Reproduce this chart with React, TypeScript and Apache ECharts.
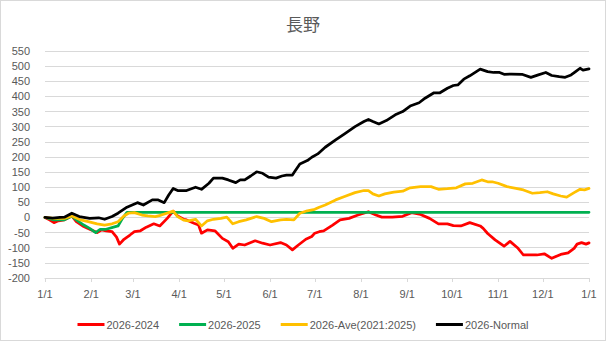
import React, { useEffect, useRef } from "react";
import * as echarts from "echarts";

const TITLE = "長野";
const monthDays = [0, 31, 59, 90, 120, 151, 181, 212, 243, 273, 304, 334, 365];
const monthLabels = ["1/1", "2/1", "3/1", "4/1", "5/1", "6/1", "7/1", "8/1", "9/1", "10/1", "11/1", "12/1", "1/1"];
const yTicks = { min: -200, max: 550, interval: 50 };

const seriesNames = ["2026-2024", "2026-2025", "2026-Ave(2021:2025)", "2026-Normal"];
const seriesColors = ["#FF0000", "#00B050", "#FFC000", "#000000"];

// [day of year, value]
const diff2024: [number, number][] = [
  [0, 0], [3, -8], [6, -17], [9, -11], [13, -8], [18, 5], [21, -14], [26, -30], [30, -39], [35, -50],
  [38, -41], [41, -44], [45, -47], [48, -65], [50, -88], [53, -72], [57, -58], [60, -47], [64, -44],
  [68, -32], [73, -21], [77, -28], [82, -3], [86, 21], [89, 5], [93, -6], [95, -8], [100, -19],
  [103, -25], [105, -52], [109, -41], [114, -44], [119, -69], [123, -80], [126, -102], [130, -88],
  [134, -91], [141, -77], [146, -85], [151, -91], [158, -83], [162, -91], [166, -107], [170, -91],
  [175, -72], [179, -63], [181, -52], [184, -47], [187, -44], [193, -25], [198, -8], [204, -3],
  [210, 8], [217, 19], [222, 8], [226, 1], [233, 1], [240, 4], [246, 16], [252, 10], [258, -3],
  [264, -21], [270, -21], [274, -27], [279, -28], [285, -17], [292, -28], [294, -36], [297, -53],
  [302, -74], [308, -95], [312, -79], [317, -100], [321, -124], [330, -124], [335, -120], [340, -135],
  [346, -122], [351, -117], [355, -102], [357, -88], [360, -83], [363, -88], [365, -84],
];

const diff2025: [number, number][] = [
  [0, 0], [6, -8], [13, -8], [18, 5], [21, -8], [26, -25], [30, -36], [34, -50], [37, -39], [41, -39],
  [46, -32], [49, -28], [52, -3], [55, 17], [365, 17],
];

const diffAve: [number, number][] = [
  [0, 0], [6, -3], [13, -3], [18, 5], [24, -8], [29, -14], [35, -21], [40, -25], [45, -21], [49, -14],
  [53, 5], [56, 14], [60, 16], [65, 8], [69, 5], [74, 3], [78, 8], [83, 16], [86, 21], [89, 3],
  [93, -9], [96, -11], [101, -6], [105, -28], [109, -11], [113, -6], [118, -3], [122, 1], [126, -21],
  [130, -14], [135, -8], [142, 3], [147, -3], [152, -14], [158, -8], [162, -6], [167, -8], [171, 14],
  [176, 22], [181, 27], [184, 34], [188, 41], [195, 58], [201, 69], [208, 82], [214, 89], [217, 89],
  [220, 78], [224, 71], [228, 78], [234, 84], [240, 87], [245, 98], [252, 102], [259, 102], [264, 93],
  [270, 95], [276, 98], [282, 111], [287, 113], [293, 124], [297, 118], [300, 118], [304, 113],
  [310, 102], [316, 96], [321, 91], [327, 80], [332, 82], [337, 85], [341, 78], [346, 71], [350, 67],
  [355, 82], [359, 93], [362, 91], [365, 96],
];

const diffNormal: [number, number][] = [
  [0, 0], [5, -2], [10, 0], [13, 1], [18, 14], [23, 3], [30, -3], [36, -1], [40, -6], [45, 3],
  [49, 14], [55, 34], [62, 49], [66, 41], [72, 58], [76, 58], [80, 49], [83, 74], [86, 96], [89, 89],
  [93, 89], [95, 89], [101, 100], [105, 93], [110, 113], [113, 130], [119, 130], [123, 124], [128, 115],
  [131, 124], [134, 124], [138, 137], [142, 151], [146, 146], [150, 133], [155, 130], [159, 137],
  [162, 140], [166, 140], [168, 155], [171, 177], [176, 188], [179, 199], [183, 210], [188, 232],
  [195, 256], [201, 276], [208, 300], [214, 317], [217, 324], [220, 317], [224, 309], [229, 320],
  [235, 339], [240, 350], [245, 368], [251, 379], [255, 394], [261, 412], [265, 412], [270, 427],
  [274, 436], [277, 438], [281, 457], [285, 468], [292, 490], [297, 482], [301, 479], [305, 479],
  [308, 473], [313, 474], [320, 473], [326, 463], [331, 471], [336, 479], [340, 469], [345, 465],
  [349, 463], [353, 471], [356, 482], [359, 493], [361, 487], [365, 491],
];

const allData = [diff2024, diff2025, diffAve, diffNormal];

export default function App() {
  const ref = useRef<HTMLDivElement>(null);
  useEffect(() => {
    document.body.style.margin = "0";
    if (!ref.current) return;
    const chart = echarts.init(ref.current, undefined, { renderer: "svg" });
    const labelColor = "#595959";
    const font = "'Liberation Sans', Arial, sans-serif";
    chart.setOption({
      animation: false,
      backgroundColor: "#ffffff",
      title: {
        text: TITLE,
        left: "center",
        top: 10,
        textStyle: { fontSize: 17, fontWeight: "normal", color: labelColor, fontFamily: "'Noto Sans CJK JP', sans-serif" },
      },
      legend: {
        data: seriesNames,
        left: "center",
        top: 314,
        icon: "rect",
        itemWidth: 27,
        itemHeight: 3,
        itemGap: 20,
        textStyle: { fontSize: 11, color: labelColor, fontFamily: font, padding: [0, 0, 0, -3] },
      },
      grid: { left: 45, right: 17, top: 51, bottom: 63, containLabel: false, outerBoundsMode: "none" },
      xAxis: {
        type: "value",
        min: 0,
        max: 365,
        axisLine: { show: true, onZero: false, lineStyle: { color: "#D9D9D9", width: 1 } },
        axisTick: { show: true, customValues: monthDays, length: 4, lineStyle: { color: "#D9D9D9" } },
        splitLine: { show: false },
        axisLabel: {
          customValues: monthDays,
          margin: 10,
          fontSize: 11,
          color: labelColor,
          fontFamily: font,
          formatter: (v: number) => {
            const i = monthDays.indexOf(v);
            return i >= 0 ? monthLabels[i] : "";
          },
        },
      },
      yAxis: {
        type: "value",
        min: yTicks.min,
        max: yTicks.max,
        interval: yTicks.interval,
        axisLine: { show: false },
        axisTick: { show: false },
        splitLine: { lineStyle: { color: "#D9D9D9", width: 1 } },
        axisLabel: { margin: 15, fontSize: 11, color: labelColor, fontFamily: font },
      },
      series: allData.map((d, i) => ({
        name: seriesNames[i],
        type: "line",
        data: d,
        showSymbol: false,
        symbol: "none",
        color: seriesColors[i],
        lineStyle: { color: seriesColors[i], width: 2.75, join: "round", cap: "round" },
        z: 2 + i,
      })),
    });
    return () => chart.dispose();
  }, []);
  return (
    <div style={{ position: "fixed", left: 0, top: 0, width: 606, height: 341 }}>
      <div ref={ref} style={{ width: 606, height: 341 }} />
      <div
        style={{
          position: "absolute",
          left: 0,
          top: 0,
          width: 606,
          height: 341,
          boxSizing: "border-box",
          border: "1px solid #D9D9D9",
          pointerEvents: "none",
        }}
      />
    </div>
  );
}
